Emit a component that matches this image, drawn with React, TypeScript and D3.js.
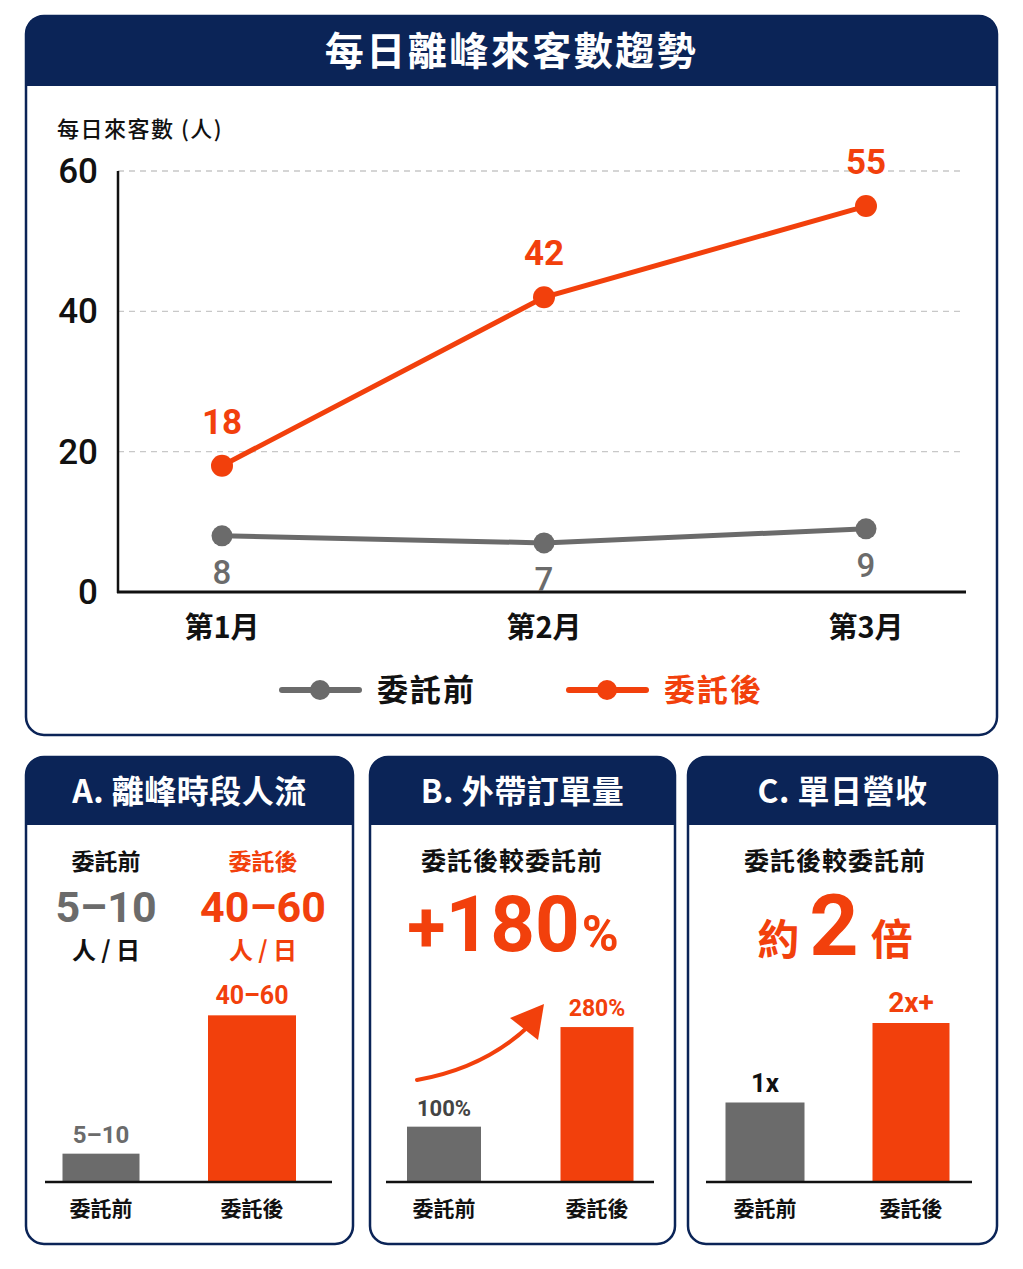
import React from "react";
import * as d3 from "d3";

const months = ["第1月", "第2月", "第3月"];
const beforeValues = [8, 7, 9];
const afterValues = [18, 42, 55];
const yTicks = [0, 20, 40, 60];
const seriesNames = ["委託前", "委託後"];

const panelTitles = ["A. 離峰時段人流", "B. 外帶訂單量", "C. 單日營收"];
const barCategories = ["委託前", "委託後"];
const panelAValues = [8.5, 50];
const panelALabels = ["5–10", "40–60"];
const panelBValues = [100, 280];
const panelBLabels = ["100%", "280%"];
const panelCValues = [1, 2];
const panelCLabels = ["1x", "2x+"];

const NAVY = "#0b2457";
const ORANGE = "#f2400c";
const GRAY = "#6b6b6b";
const CJK = "'Noto Sans CJK TC', 'Noto Sans', sans-serif";
const NUM = "Roboto, 'Noto Sans CJK TC', sans-serif";

function Card({ x, y, w, h, headH, title, titleSize, letter }: any) {
  const r = 18;
  const headPath = `M${x},${y + headH} L${x},${y + r} Q${x},${y} ${x + r},${y} L${x + w - r},${y} Q${x + w},${y} ${x + w},${y + r} L${x + w},${y + headH} Z`;
  return (
    <g>
      <rect x={x} y={y} width={w} height={h} rx={r} fill="#fff" stroke={NAVY} strokeWidth={2.5} />
      <path d={headPath} fill={NAVY} />
      <text x={x + w / 2} y={y + headH / 2 + titleSize * 0.36} textAnchor="middle" fill="#fff"
        fontFamily={CJK} fontWeight={700} fontSize={titleSize} letterSpacing={letter}>{title}</text>
    </g>
  );
}

function MiniBars({ x0, x1, centers, barW, values, domainMax, pxMax, labels, labelColors, labelSize }: any) {
  const base = 1182;
  const y = d3.scaleLinear().domain([0, domainMax]).range([base, base - pxMax]);
  return (
    <g>
      {values.map((v: number, i: number) => (
        <g key={i}>
          <rect x={centers[i] - barW[i] / 2} y={y(v)} width={barW[i]} height={base - y(v)} fill={i === 0 ? GRAY : ORANGE} />
          <text x={centers[i]} y={y(v) - 11} textAnchor="middle" fontFamily={NUM} fontWeight={700}
            fontSize={labelSize[i]} fill={labelColors[i]}>{labels[i]}</text>
          <text x={centers[i]} y={1216} textAnchor="middle" fontFamily={CJK} fontWeight={700} fontSize={21} fill="#111">{barCategories[i]}</text>
        </g>
      ))}
      <line x1={x0} x2={x1} y1={base} y2={base} stroke="#111" strokeWidth={2.5} />
    </g>
  );
}

export default function App() {
  const x = d3.scalePoint().domain(months).range([222, 866]);
  const y = d3.scaleLinear().domain([0, 60]).range([592, 171]);
  const line = d3.line<number>().x((_, i) => x(months[i]) as number).y((d) => y(d));

  return (
    <svg width={1023} height={1269} style={{ position: "absolute", left: 0, top: 0, background: "#fff" }}>
      {/* Main card */}
      <Card x={26} y={16} w={971} h={719} headH={70} title="每日離峰來客數趨勢" titleSize={39} letter={2.5} />
      <text x={57} y={137} fontFamily={CJK} fontWeight={500} fontSize={22} letterSpacing={1.5} fill="#111">每日來客數 (人)</text>

      {yTicks.filter((t) => t > 0).map((t) => (
        <line key={t} x1={118} x2={962} y1={y(t)} y2={y(t)} stroke="#c8c8c8" strokeWidth={1.3} strokeDasharray="6 5" />
      ))}
      {yTicks.map((t) => (
        <text key={t} x={98} y={y(t) + 12} textAnchor="end" fontFamily={NUM} fontWeight={500} fontSize={35} fill="#111">{t}</text>
      ))}
      <line x1={118} x2={118} y1={171} y2={593} stroke="#111" strokeWidth={2.5} />
      <line x1={117} x2={966} y1={592} y2={592} stroke="#111" strokeWidth={3} />
      {months.map((m) => (
        <text key={m} x={x(m)} y={638} textAnchor="middle" fontFamily={CJK} fontWeight={700} fontSize={29} fill="#111">{m}</text>
      ))}

      <path d={line(beforeValues) || ""} fill="none" stroke={GRAY} strokeWidth={5} />
      <path d={line(afterValues) || ""} fill="none" stroke={ORANGE} strokeWidth={5} />
      {beforeValues.map((v, i) => (
        <g key={"b" + i}>
          <circle cx={x(months[i])} cy={y(v)} r={10.5} fill={GRAY} />
          <text x={x(months[i])} y={y(v) + 48} textAnchor="middle" fontFamily={NUM} fontWeight={500} fontSize={33} fill={GRAY}>{v}</text>
        </g>
      ))}
      {afterValues.map((v, i) => (
        <g key={"a" + i}>
          <circle cx={x(months[i])} cy={y(v)} r={11} fill={ORANGE} />
          <text x={x(months[i])} y={y(v) - 32} textAnchor="middle" fontFamily={NUM} fontWeight={700} fontSize={35} fill={ORANGE}>{v}</text>
        </g>
      ))}

      {/* Legend */}
      <g>
        <line x1={282} x2={359} y1={690} y2={690} stroke={GRAY} strokeWidth={6} strokeLinecap="round" />
        <circle cx={320} cy={690} r={10} fill={GRAY} />
        <text x={377} y={701} fontFamily={CJK} fontWeight={700} fontSize={31} letterSpacing={2} fill="#111">{seriesNames[0]}</text>
        <line x1={569} x2={646} y1={690} y2={690} stroke={ORANGE} strokeWidth={6} strokeLinecap="round" />
        <circle cx={607} cy={690} r={10} fill={ORANGE} />
        <text x={664} y={701} fontFamily={CJK} fontWeight={700} fontSize={31} letterSpacing={2} fill={ORANGE}>{seriesNames[1]}</text>
      </g>

      {/* Panel A */}
      <Card x={26} y={757} w={327} h={487} headH={68} title={panelTitles[0]} titleSize={32} letter={0.5} />
      <text x={106} y={870} textAnchor="middle" fontFamily={CJK} fontWeight={700} fontSize={23} fill="#111">委託前</text>
      <text x={263} y={870} textAnchor="middle" fontFamily={CJK} fontWeight={700} fontSize={23} fill={ORANGE}>委託後</text>
      <text x={106} y={922} textAnchor="middle" fontFamily={NUM} fontWeight={700} fontSize={43} fill={GRAY}>5–10</text>
      <text x={263} y={922} textAnchor="middle" fontFamily={NUM} fontWeight={700} fontSize={43} fill={ORANGE}>40–60</text>
      <text x={106} y={959} textAnchor="middle" fontFamily={CJK} fontWeight={700} fontSize={24} fill="#111">人 / 日</text>
      <text x={263} y={959} textAnchor="middle" fontFamily={CJK} fontWeight={700} fontSize={24} fill={ORANGE}>人 / 日</text>
      <MiniBars x0={45} x1={332} centers={[101, 252]} barW={[77, 88]} values={panelAValues} domainMax={60} pxMax={200}
        labels={panelALabels} labelColors={[GRAY, ORANGE]} labelSize={[24, 25]} />

      {/* Panel B */}
      <Card x={370} y={757} w={305} h={487} headH={68} title={panelTitles[1]} titleSize={32} letter={0.5} />
      <text x={512} y={870} textAnchor="middle" fontFamily={CJK} fontWeight={700} fontSize={25} fill="#111" letterSpacing={1}>委託後較委託前</text>
      <text x={513} y={951} textAnchor="middle" fontFamily={NUM} fontWeight={700} fill={ORANGE}>
        <tspan fontSize={70}>+</tspan><tspan fontSize={78}>180</tspan><tspan fontSize={50} dx={2}>%</tspan>
      </text>
      <path d="M417,1080 Q485,1068 530,1025" fill="none" stroke={ORANGE} strokeWidth={4} strokeLinecap="round" />
      <polygon points="544,1004 538,1040 510,1018" fill={ORANGE} />
      <MiniBars x0={386} x1={654} centers={[444, 597]} barW={[74, 73]} values={panelBValues} domainMax={300} pxMax={166}
        labels={panelBLabels} labelColors={["#444", ORANGE]} labelSize={[22, 23]} />

      {/* Panel C */}
      <Card x={688} y={757} w={309} h={487} headH={68} title={panelTitles[2]} titleSize={32} letter={0.5} />
      <text x={835} y={870} textAnchor="middle" fontFamily={CJK} fontWeight={700} fontSize={25} fill="#111" letterSpacing={1}>委託後較委託前</text>
      <text x={835} y={955} textAnchor="middle" fill={ORANGE} fontWeight={700}>
        <tspan fontFamily={CJK} fontSize={42}>約</tspan>
        <tspan fontFamily={NUM} fontSize={86} dx={10}>2</tspan>
        <tspan fontFamily={CJK} fontSize={42} dx={12}>倍</tspan>
      </text>
      <MiniBars x0={706} x1={972} centers={[765, 911]} barW={[79, 77]} values={panelCValues} domainMax={2} pxMax={159}
        labels={panelCLabels} labelColors={["#111", ORANGE]} labelSize={[26, 28]} />
    </svg>
  );
}
